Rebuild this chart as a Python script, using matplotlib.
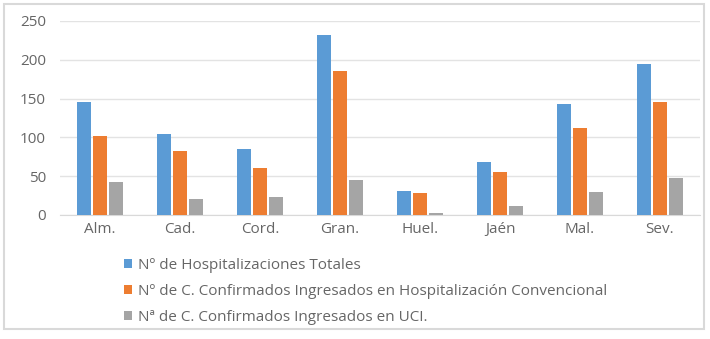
import numpy as np
import matplotlib
matplotlib.use("Agg")
import matplotlib.pyplot as plt
from matplotlib.patches import Rectangle

# ── Data ─────────────────────────────────────────────────────────────────────
provinces = ["Alm.", "Cad.", "Cord.", "Gran.", "Huel.", "Jaén", "Mal.", "Sev."]
hosp_totales = [145, 105, 85, 232, 31, 68, 143, 195]
hosp_convencional = [102, 83, 61, 186, 28, 55, 112, 146]
ingresados_uci = [43, 21, 23, 45, 2, 12, 30, 48]

series_labels = [
    "Nº de Hospitalizaciones Totales",
    "Nº de C. Confirmados Ingresados en Hospitalización Convencional",
    "Nª de C. Confirmados Ingresados en UCI.",
]
colors = ["#5B9BD5", "#ED7D31", "#A5A5A5"]
yticks = [0, 50, 100, 150, 200, 250]

# ── Plot ─────────────────────────────────────────────────────────────────────
plt.rcParams["font.family"] = ["Open Sans", "DejaVu Sans"]

fig = plt.figure(figsize=(7.1, 3.39), dpi=100)
ax = fig.add_axes([60 / 710, 1 - 215 / 339, 640 / 710, 194 / 339])

x = np.arange(len(provinces))
width = 0.175
step = 0.2
for i, (vals, lab, col) in enumerate(
        zip([hosp_totales, hosp_convencional, ingresados_uci], series_labels, colors)):
    ax.bar(x + (i - 1) * step, vals, width=width, color=col, label=lab, zorder=3)

ax.set_xlim(-0.5, len(provinces) - 0.5)
ax.set_ylim(0, 250)
ax.set_yticks(yticks)
ax.set_xticks(x)
ax.set_xticklabels(provinces)
ax.grid(axis="y", color="#E3E3E3", linewidth=1, zorder=0)
for s in ["top", "right", "left"]:
    ax.spines[s].set_visible(False)
ax.spines["bottom"].set_color("#D9D9D9")
ax.tick_params(axis="both", length=0, colors="#666666", labelsize=11)
ax.tick_params(axis="y", pad=10)
ax.tick_params(axis="x", pad=5)

fig.legend(loc="upper left", bbox_to_anchor=(118 / 710, 1 - 252 / 339),
           frameon=False, fontsize=11, labelcolor="#666666",
           handlelength=0.5, handleheight=0.5, handletextpad=0.4,
           labelspacing=0.72, borderaxespad=0)

# chart border
fig.patches.append(Rectangle((4 / 710, 1 - 329 / 339), 700 / 710, 325 / 339,
                             transform=fig.transFigure, fill=False,
                             edgecolor="#D9D9D9", linewidth=1.5))

fig.savefig("out.png", dpi=100)
